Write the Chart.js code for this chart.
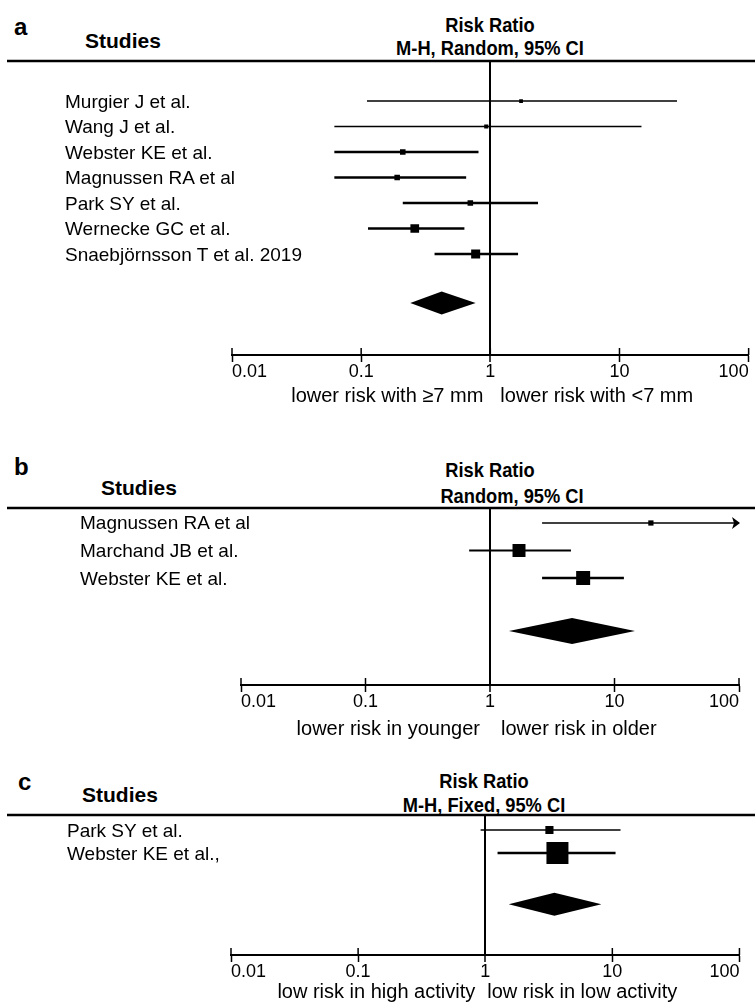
<!DOCTYPE html>
<html><head><meta charset="utf-8">
<script src="https://cdn.jsdelivr.net/npm/chart.js@4.4.1/dist/chart.umd.min.js"></script>
<style>
html,body{margin:0;padding:0;background:#fff;}
body{width:755px;height:1003px;position:relative;overflow:hidden;font-family:"Liberation Sans",Arial,sans-serif;color:#000;}
canvas{position:absolute;left:0;}
.t{position:absolute;white-space:nowrap;line-height:1;}
.pl{font-weight:bold;font-size:24px;}
.st{font-weight:bold;font-size:21px;}
.hd{font-weight:bold;font-size:21px;width:400px;text-align:center;transform:scaleX(0.87);transform-origin:center;}
.sub{font-size:20px;}
.lab{font-size:19px;}
</style></head><body>

<div class="t pl" style="left:14px;top:15px;">a</div>
<div class="t st" style="left:85px;top:30px;">Studies</div>
<div class="t hd" style="left:290px;top:14px;">Risk Ratio</div>
<div class="t hd" style="left:290px;top:37px;">M-H, Random, 95% CI</div>

<div class="t pl" style="left:14px;top:455px;">b</div>
<div class="t st" style="left:101px;top:477px;">Studies</div>
<div class="t hd" style="left:290px;top:459px;">Risk Ratio</div>
<div class="t hd" style="left:312px;top:485px;">Random, 95% CI</div>

<div class="t pl" style="left:18px;top:770px;">c</div>
<div class="t st" style="left:82px;top:784px;">Studies</div>
<div class="t hd" style="left:284px;top:770px;">Risk Ratio</div>
<div class="t hd" style="left:284px;top:794px;">M-H, Fixed, 95% CI</div>

<canvas id="ca" width="755" height="410" style="top:0px"></canvas>
<canvas id="cb" width="755" height="330" style="top:420px"></canvas>
<canvas id="cc" width="755" height="243" style="top:760px"></canvas>

<div id="labels"></div>
<div class="t sub" id="subAL"></div><div class="t sub" id="subAR"></div>
<div class="t sub" id="subBL"></div><div class="t sub" id="subBR"></div>
<div class="t sub" id="subCL"></div><div class="t sub" id="subCR"></div>

<script>
// ---------- DATA ----------
const xTicks = [0.01, 0.1, 1, 10, 100];
const xTickLabels = ['0.01', '0.1', '1', '10', '100'];

// Panel a
const studiesA = ['Murgier J et al.', 'Wang J et al.', 'Webster KE et al.', 'Magnussen RA et al', 'Park SY et al.', 'Wernecke GC et al.', 'Snaebjörnsson T et al. 2019'];
const rrA    = [1.73, 0.93, 0.21, 0.19, 0.70, 0.26, 0.77];
const lowA   = [0.111, 0.062, 0.062, 0.062, 0.21, 0.113, 0.37];
const highA  = [27.9, 14.8, 0.81, 0.65, 2.34, 0.63, 1.64];
const weightA = [5, 6, 11, 11, 11, 27, 29];
const pooledA = [0.24, 0.42, 0.77];   // lower, estimate, upper
const favoursA = ['lower risk with \u22657 mm', 'lower risk with <7 mm'];

// Panel b
const studiesB = ['Magnussen RA et al', 'Marchand JB et al.', 'Webster KE et al.'];
const rrB    = [19.6, 1.71, 5.6];
const lowB   = [2.62, 0.68, 2.62];
const highB  = [150, 4.47, 11.9];
const weightB = [7, 43, 50];
const pooledB = [1.42, 4.56, 14.6];
const favoursB = ['lower risk in younger', 'lower risk in older'];

// Panel c
const studiesC = ['Park SY et al.', 'Webster KE et al.,'];
const rrC    = [3.2, 3.7];
const lowC   = [0.92, 1.25];
const highC  = [11.6, 10.6];
const weightC = [12, 88];
const pooledC = [1.53, 3.5, 8.2];
const favoursC = ['low risk in high activity', 'low risk in low activity'];

// ---------- LAYOUT / STYLE ----------
const panels = [
  {id:'a', canvas:'ca', studies:studiesA, rr:rrA, low:lowA, high:highA, weight:weightA, pooled:pooledA, favours:favoursA,
   pad:{top:61, left:232, right:3, bottom:25}, labelLeft:65, yMin:-1.57, yMax:9.96, diamondRow:7.92, diamondHalf:11.5,
   maxSide:9, lineW:[1.5,1.5,2.5,2.5,2.5,2.5,2.5], subIds:['subAL','subAR'], subTop:385, gapL:7, gapR:10, canvasTop:0},
  {id:'b', canvas:'cb', studies:studiesB, rr:rrB, low:lowB, high:highB, weight:weightB, pooled:pooledB, favours:favoursB,
   pad:{top:88, left:241, right:16, bottom:35}, labelLeft:80, yMin:-0.545, yMax:5.89, diamondRow:3.93, diamondHalf:13,
   maxSide:14, lineW:[1.5,2,2.5], subIds:['subBL','subBR'], subTop:718, gapL:10, gapR:11, canvasTop:420},
  {id:'c', canvas:'cc', studies:studiesC, rr:rrC, low:lowC, high:highC, weight:weightC, pooled:pooledC, favours:favoursC,
   pad:{top:55, left:231, right:15, bottom:18}, labelLeft:67, yMin:-0.652, yMax:5.43, diamondRow:3.22, diamondHalf:11.5,
   maxSide:22, lineW:[1.5,2.5], subIds:['subCL','subCR'], subTop:981, gapL:10, gapR:2, canvasTop:760}
];

function forestPlugin(p) {
  return {
    id: 'forest_' + p.id,
    beforeDatasetsDraw(chart) {
      const {ctx, scales: {x, y}} = chart;
      ctx.save();
      ctx.strokeStyle = '#000'; ctx.fillStyle = '#000';
      p.low.forEach((lo, i) => {
        const yy = y.getPixelForValue(i);
        const x1 = x.getPixelForValue(Math.max(lo, x.min));
        const x2 = x.getPixelForValue(Math.min(p.high[i], x.max));
        ctx.lineWidth = p.lineW[i];
        ctx.beginPath(); ctx.moveTo(x1, yy); ctx.lineTo(x2, yy); ctx.stroke();
        if (p.high[i] > x.max) {
          ctx.beginPath();
          ctx.moveTo(x2 + 1, yy); ctx.lineTo(x2 - 7, yy - 6); ctx.lineTo(x2 - 5, yy); ctx.lineTo(x2 - 7, yy + 6);
          ctx.closePath(); ctx.fill();
        }
      });
      ctx.restore();
    },
    afterDatasetsDraw(chart) {
      const {ctx, scales: {x, y}} = chart;
      const yy = y.getPixelForValue(p.diamondRow);
      const xl = x.getPixelForValue(p.pooled[0]);
      const xm = x.getPixelForValue(p.pooled[1]);
      const xr = x.getPixelForValue(p.pooled[2]);
      ctx.save();
      ctx.fillStyle = '#000';
      ctx.beginPath();
      ctx.moveTo(xl, yy); ctx.lineTo(xm, yy - p.diamondHalf); ctx.lineTo(xr, yy); ctx.lineTo(xm, yy + p.diamondHalf);
      ctx.closePath(); ctx.fill();
      ctx.restore();
    },
    afterDraw(chart) {
      const {ctx, chartArea, scales: {x}} = chart;
      ctx.save();
      ctx.strokeStyle = '#000';
      ctx.lineWidth = 2.5;
      ctx.beginPath(); ctx.moveTo(7, chartArea.top); ctx.lineTo(755, chartArea.top); ctx.stroke();
      ctx.lineWidth = 1.5;
      xTicks.forEach(v => {
        const px = x.getPixelForValue(v);
        ctx.beginPath(); ctx.moveTo(px, chartArea.bottom - 7); ctx.lineTo(px, chartArea.bottom); ctx.stroke();
      });
      ctx.restore();
    }
  };
}

const labelsBox = document.getElementById('labels');
panels.forEach(p => {
  const wmax = Math.max(...p.weight);
  const radii = p.weight.map(w => p.maxSide * Math.sqrt(w / wmax) / Math.SQRT2);
  const chart = new Chart(document.getElementById(p.canvas), {
    type: 'scatter',
    data: {
      datasets: [{
        data: p.rr.map((v, i) => ({x: v, y: i})),
        pointStyle: 'rect',
        pointRadius: radii,
        pointHoverRadius: radii,
        backgroundColor: '#000',
        borderWidth: 0,
        showLine: false
      }]
    },
    options: {
      responsive: false,
      animation: false,
      devicePixelRatio: 1,
      events: [],
      layout: {padding: p.pad},
      plugins: {legend: {display: false}, tooltip: {enabled: false}},
      scales: {
        x: {
          type: 'logarithmic', min: 0.01, max: 100, position: 'bottom',
          afterBuildTicks: s => { s.ticks = xTicks.map(v => ({value: v})); },
          afterFit: s => { s.height = 30; },
          ticks: {align: 'inner', autoSkip: false, maxRotation: 0, minRotation: 0, padding: 1, color: '#000',
                  font: {family: 'Liberation Sans', size: 18, lineHeight: 1},
                  callback: (v, i) => xTickLabels[i]},
          grid: {
            drawOnChartArea: true, drawTicks: true, tickLength: 7, tickWidth: 1.5, tickColor: '#000',
            color: c => (c.tick && c.tick.value === 1) ? '#000' : 'rgba(0,0,0,0)',
            lineWidth: c => (c.tick && c.tick.value === 1) ? 2 : 1
          },
          border: {display: true, color: '#000', width: 2}
        },
        y: {
          type: 'linear', reverse: true, min: p.yMin, max: p.yMax, bounds: 'data', display: false
        }
      }
    },
    plugins: [forestPlugin(p)]
  });
  // study labels placed at the y-scale pixel of each row
  p.studies.forEach((name, i) => {
    const d = document.createElement('div');
    d.className = 't lab';
    d.textContent = name;
    d.style.left = p.labelLeft + 'px';
    d.style.top = (p.canvasTop + chart.scales.y.getPixelForValue(i) - 9.5) + 'px';
    labelsBox.appendChild(d);
  });
  const px1 = chart.scales.x.getPixelForValue(1);
  const L = document.getElementById(p.subIds[0]);
  const R = document.getElementById(p.subIds[1]);
  L.textContent = p.favours[0];
  R.textContent = p.favours[1];
  L.style.top = p.subTop + 'px';
  R.style.top = p.subTop + 'px';
  L.style.right = (755 - (px1 - p.gapL)) + 'px';
  R.style.left = (px1 + p.gapR) + 'px';
});
</script>
</body></html>
